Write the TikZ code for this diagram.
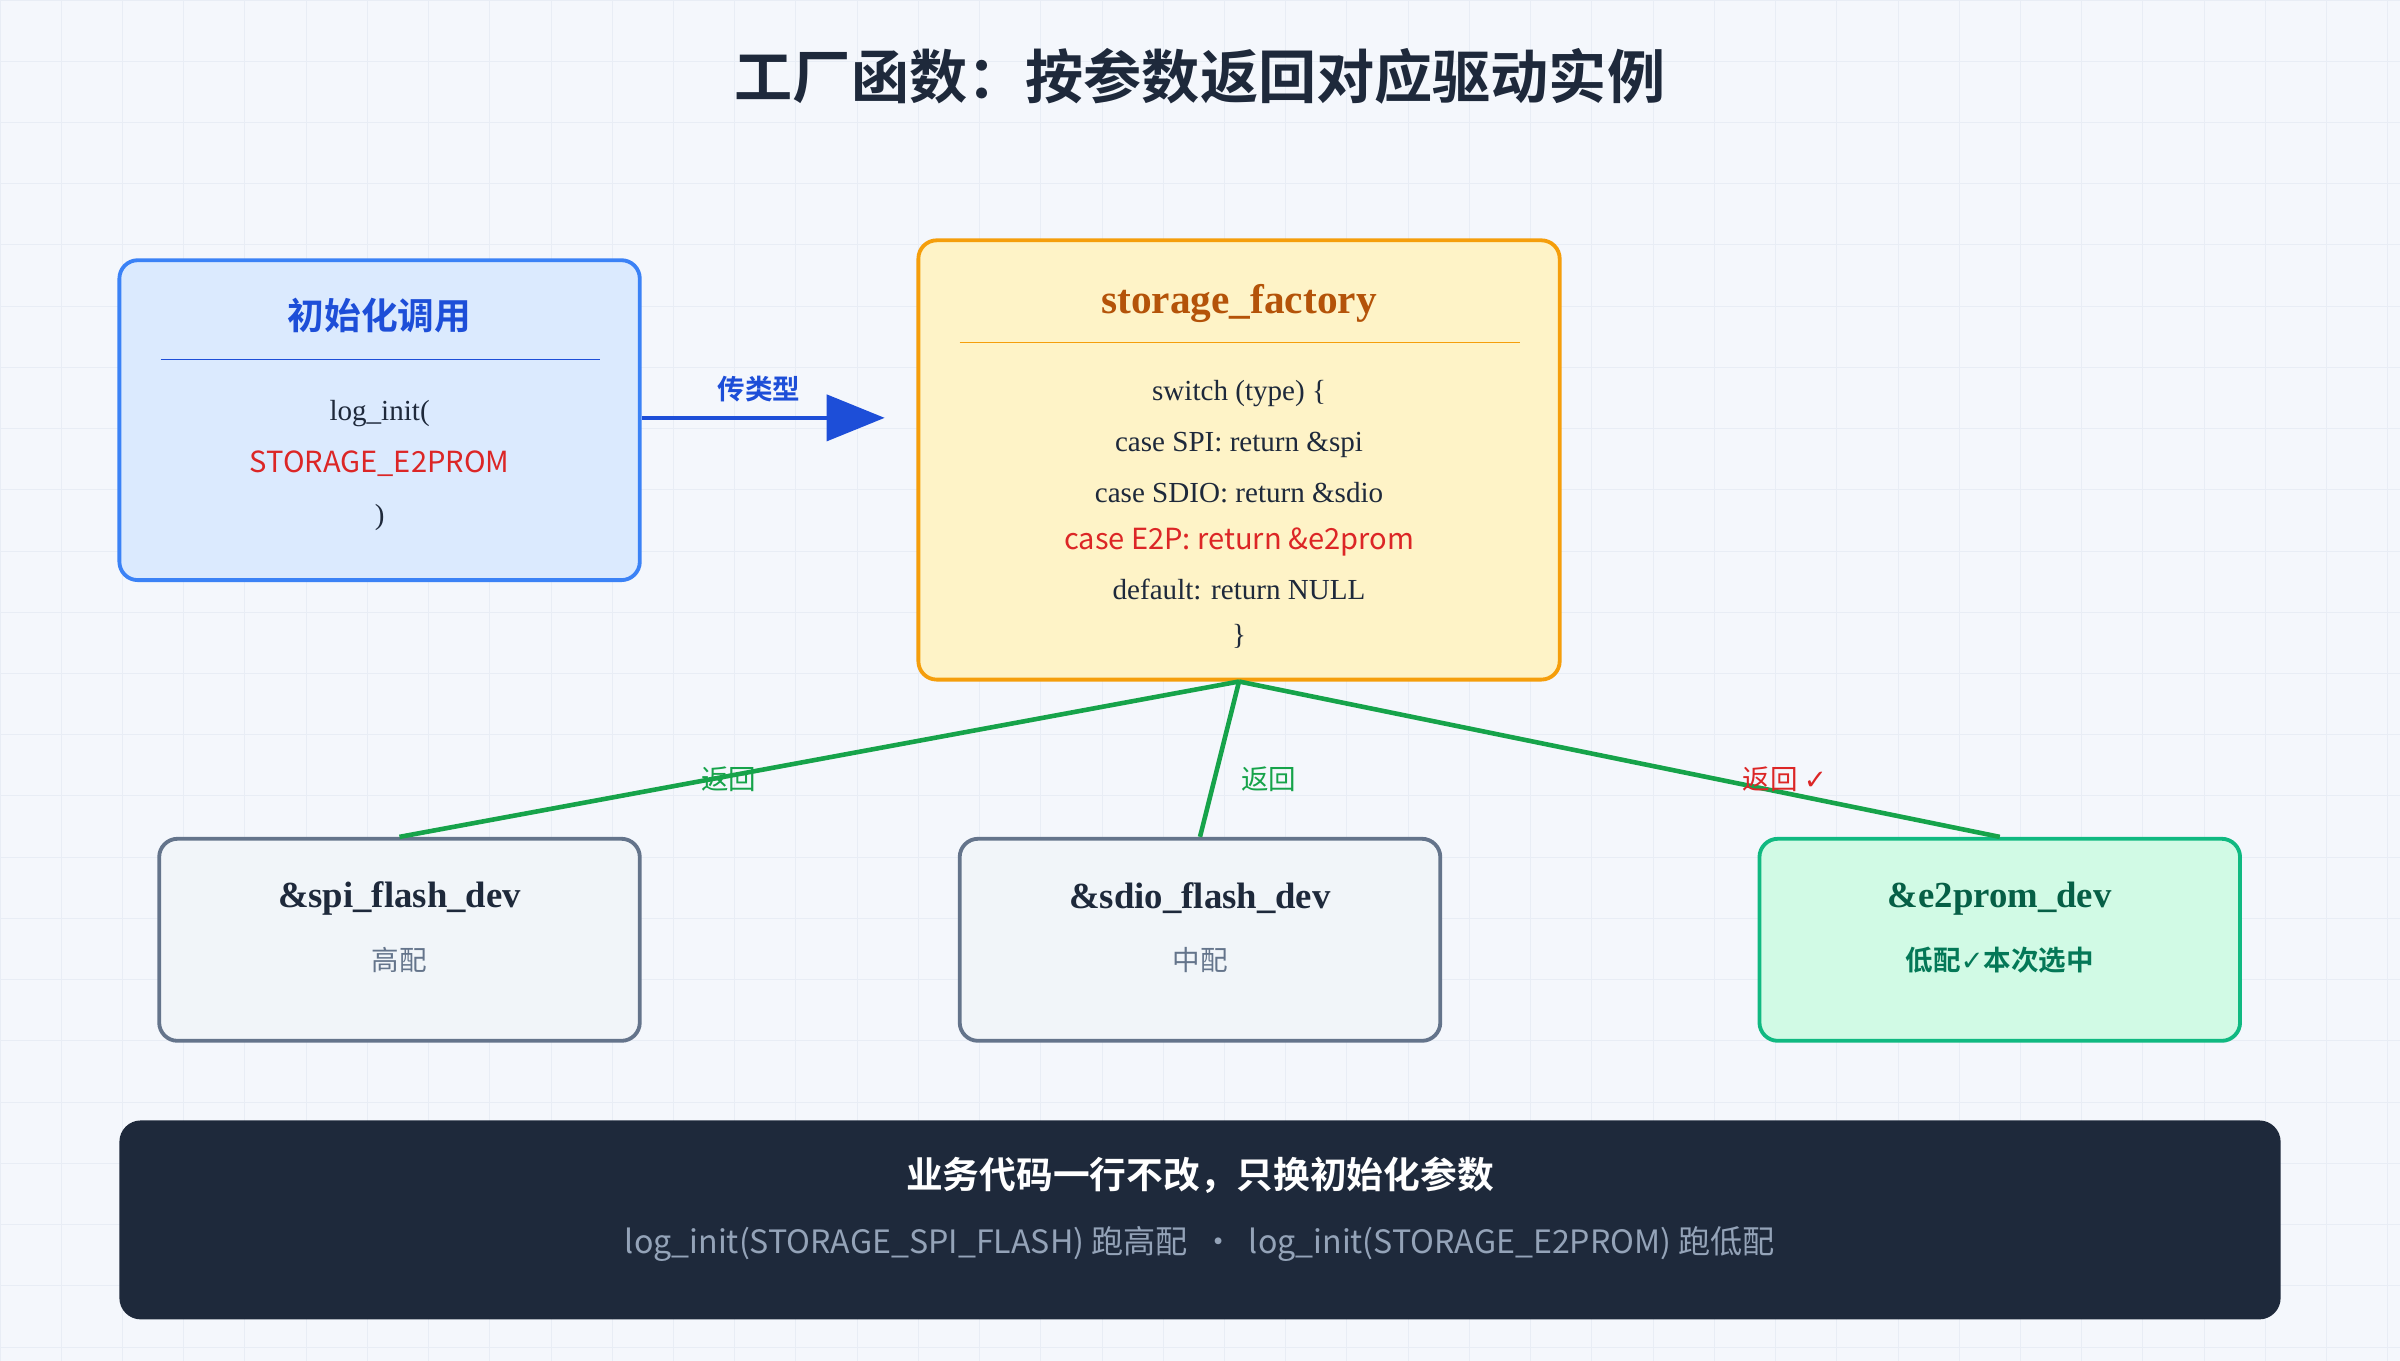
\documentclass[tikz,border=0pt]{standalone}
\usepackage{fontspec}
\setmainfont{Liberation Serif}
\newfontfamily\cjk{Noto Sans CJK SC}
\newfontfamily\cjkb{Noto Sans CJK SC Bold}
\newfontfamily\sym{DejaVu Sans}
\usetikzlibrary{arrows.meta,positioning}
\definecolor{bgcol}{HTML}{F4F7FC}
\definecolor{gridcol}{HTML}{E8EDF5}
\definecolor{inkcol}{HTML}{1E293B}
\definecolor{bluecol}{HTML}{1D4ED8}
\definecolor{blueline}{HTML}{3B82F6}
\definecolor{bluefill}{HTML}{DBEAFE}
\definecolor{ambfill}{HTML}{FEF3C7}
\definecolor{ambline}{HTML}{F59E0B}
\definecolor{ambtext}{HTML}{B45309}
\definecolor{redcol}{HTML}{DC2626}
\definecolor{grncol}{HTML}{16A34A}
\definecolor{slatefill}{HTML}{F1F5F9}
\definecolor{slateline}{HTML}{64748B}
\definecolor{mintfill}{HTML}{D1FAE5}
\definecolor{mintline}{HTML}{10B981}
\definecolor{minttext}{HTML}{065F46}
\definecolor{mintsub}{HTML}{047857}
\definecolor{greytext}{HTML}{94A3B8}
\tikzset{
  box/.style={draw, line width=2.5pt, rounded corners=12pt, inner sep=0pt},
  devbox/.style={box, fill=slatefill, draw=slateline, minimum width=314pt, minimum height=132pt},
  code/.style={font=\fontsize{19}{19}\selectfont, text=inkcol},
  redcode/.style={font=\cjk\fontsize{19}{19}\selectfont, text=redcol},
  devtitle/.style={font=\bfseries\fontsize{24}{24}\selectfont, text=inkcol},
  devsub/.style={font=\cjk\fontsize{18}{18}\selectfont, text=slateline},
  ret/.style={draw=grncol, line width=3pt},
  retlabel/.style={font=\cjk\fontsize{18}{18}\selectfont, text=grncol}
}
\begin{document}
\begin{tikzpicture}[x=1pt,y=-1pt]
  \useasboundingbox (0,0) rectangle (1568,889);
  \fill[bgcol] (0,0) rectangle (1568,889);
  \foreach \i in {0,40,...,1560} \draw[gridcol,line width=0.6pt] (\i,0) -- (\i,889);
  \foreach \j in {0,40,...,880} \draw[gridcol,line width=0.6pt] (0,\j) -- (1568,\j);
  % title
  \node[font=\cjkb\fontsize{38}{38}\selectfont, text=inkcol] (title) at (784,50) {工厂函数：按参数返回对应驱动实例};
  % caller
  \node[box, fill=bluefill, draw=blueline, minimum width=340pt, minimum height=209pt] (caller) at (248,274.5) {};
  \node[font=\cjkb\fontsize{24}{24}\selectfont, text=bluecol] (callertitle) at (248,206) {初始化调用};
  \draw[bluecol, line width=0.8pt] (105,235) -- (392,235);
  \node[code] (callarg1) at (248,270) {log\_init(};
  \node[redcode] (callarg2) at (248,303) {STORAGE\_E2PROM};
  \node[code] (callarg3) at (248,338) {)};
  % factory
  \node[box, fill=ambfill, draw=ambline, minimum width=419pt, minimum height=287pt] (factory) at (809.5,300.5) {};
  \node[font=\bfseries\fontsize{27}{27}\selectfont, text=ambtext] (factorytitle) at (809.5,198) {storage\_factory};
  \draw[ambline, line width=0.8pt] (627,224) -- (993,224);
  \node[code] (sw1) at (809.5,257) {switch (type) \{};
  \node[code] (sw2) at (809.5,291) {case SPI: return \&spi};
  \node[code] (sw3) at (809.5,322) {case SDIO: return \&sdio};
  \node[redcode] (sw4) at (809.5,354) {case E2P: return \&e2prom};
  \node[code] (sw5) at (809.5,385) {default: return NULL};
  \node[code] (sw6) at (809.5,416) {\}};
  % pass type
  \coordinate (argtip) at (578,273);
  \draw[bluecol, line width=3pt, -{Triangle[length=38pt,width=30pt]}] (caller.east |- argtip) -- (argtip);
  \node[font=\cjkb\fontsize{18}{18}\selectfont, text=bluecol] (passlabel) at (496,254) {传类型};
  % devices
  \node[devbox] (spi) at (261,614) {};
  \node[devtitle] (spititle) at (261,587) {\&spi\_flash\_dev};
  \node[devsub] (spisub) at (261,627) {高配};
  \node[devbox] (sdio) at (784,614) {};
  \node[devtitle] (sdiotitle) at (784,587) {\&sdio\_flash\_dev};
  \node[devsub] (sdiosub) at (784,627) {中配};
  \node[devbox, fill=mintfill, draw=mintline] (e2p) at (1306.5,614) {};
  \node[devtitle, text=minttext] (e2ptitle) at (1306.5,587) {\&e2prom\_dev};
  \node[font=\cjkb\fontsize{18}{18}\selectfont, text=mintsub] (e2psub) at (1306.5,627) {低配{\sym ✓}本次选中};
  % returns
  \draw[ret] (factory.south) -- (spi.north);
  \draw[ret] (factory.south) -- (sdio.north);
  \draw[ret] (factory.south) -- (e2p.north);
  \node[retlabel] (ret1) at (476,509) {返回};
  \node[retlabel] (ret2) at (829,509) {返回};
  \node[retlabel, text=redcol] (ret3) at (1166,509) {返回 {\sym ✓}};
  % banner
  \node[fill=inkcol, rounded corners=14pt, minimum width=1412pt, minimum height=130pt, inner sep=0pt] (banner) at (784,797) {};
  \node[font=\cjkb\fontsize{24}{24}\selectfont, text=white] (bannertitle) at (784,768) {业务代码一行不改，只换初始化参数};
  \node[font=\cjk\fontsize{21}{21}\selectfont, text=greytext] (bannersub) at (784,813) {log\_init(STORAGE\_SPI\_FLASH) 跑高配 \ · \ log\_init(STORAGE\_E2PROM) 跑低配};
\end{tikzpicture}
\end{document}
